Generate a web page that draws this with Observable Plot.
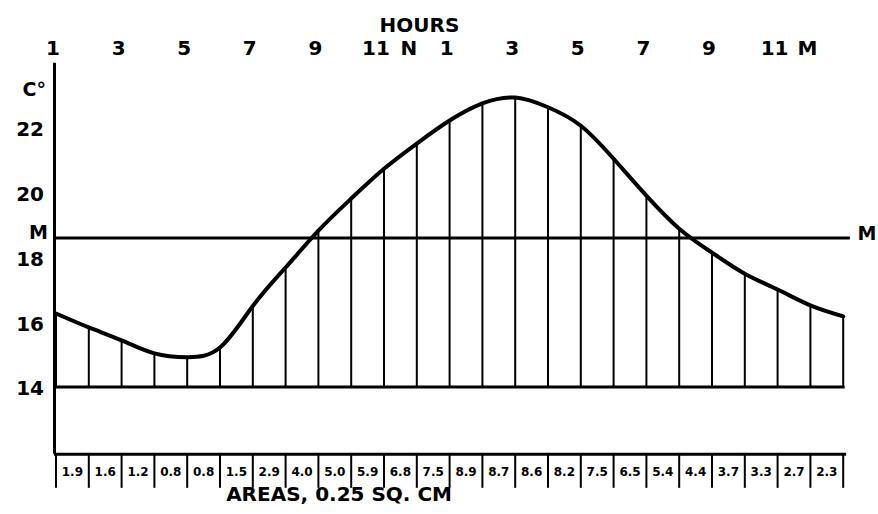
<!DOCTYPE html>
<html><head><meta charset="utf-8">
<script src="https://cdn.jsdelivr.net/npm/d3@7"></script>
<script src="https://cdn.jsdelivr.net/npm/@observablehq/plot@0.6"></script>
<style>body{margin:0;background:#fff}</style>
</head><body><div id="chart"></div>
<script>
// ---- data ----
const slots = d3.range(25); // hourly ordinates, 1 h apart, starting at 1 a.m.
const temperatures = [16.27, 15.84, 15.44, 15.04, 14.92, 15.22, 16.5, 17.69, 18.83, 19.82, 20.74, 21.52, 22.23, 22.76, 22.94, 22.64, 22.07, 21.05, 19.91, 18.89, 18.15, 17.5, 17.01, 16.52, 16.18];
const areas = [1.9, 1.6, 1.2, 0.8, 0.8, 1.5, 2.9, 4.0, 5.0, 5.9, 6.8, 7.5, 8.9, 8.7, 8.6, 8.2, 7.5, 6.5, 5.4, 4.4, 3.7, 3.3, 2.7, 2.3];
const hourLabels = ["1", "3", "5", "7", "9", "11", "N", "1", "3", "5", "7", "9", "11", "M"];
const hourLabelSlots = [0, 2, 4, 6, 8, 10, 11, 12, 14, 16, 18, 20, 22, 23];
const yTicks = [14, 16, 18, 20, 22];
const baseTemp = 14;
const meanTemp = 18.6;

// ---- layout ----
const W = 878, H = 514;
const FONT = "DejaVu Sans";
const boxTop = 11.92, tickBottom = 10.87, areaTextY = 11.36, axisTop = 24.0;

const curveData = slots.map((s, i) => ({s, t: temperatures[i]}));
const areaData = areas.map((a, i) => ({s: i + 0.5, a}));
const hourData = hourLabels.map((l, i) => ({s: hourLabelSlots[i], l}));
const nearNoon = d => d.s === 10 || d.s === 11;

const hourStyle = {x: "s", frameAnchor: "top", dy: 40, text: "l", fontFamily: FONT, fontWeight: "bold", fontSize: 20, fill: "#000"};

const chart = Plot.plot({
  width: W, height: H,
  marginTop: 0, marginRight: 0, marginBottom: 0, marginLeft: 0,
  x: {domain: [0, 24], range: [55.5, 842.7], axis: null},
  y: {domain: [14, 22], range: [386.5, 127.5], axis: null},
  style: {background: "#fff", color: "#000"},
  marks: [
    // vertical ordinates
    Plot.ruleX(curveData, {x: "s", y1: baseTemp, y2: "t", stroke: "#000", strokeWidth: 2}),
    // base line (14 °C)
    Plot.ruleY([baseTemp], {x1: 0, x2: 24.06, stroke: "#000", strokeWidth: 3}),
    // mean line
    Plot.ruleY([meanTemp], {x1: 0, x2: 24.22, stroke: "#000", strokeWidth: 3}),
    // left axis
    Plot.ruleX([0], {y1: boxTop, y2: axisTop, dx: -1.5, stroke: "#000", strokeWidth: 3}),
    // curve
    Plot.line(curveData, {x: "s", y: "t", curve: "natural", stroke: "#000", strokeWidth: 4, strokeLinejoin: "round", strokeLinecap: "round"}),
    // bottom area strip
    Plot.ruleY([boxTop], {x1: 0, x2: 24.15, dx: -1.5, stroke: "#000", strokeWidth: 3}),
    Plot.ruleX(slots, {x: d => d, y1: boxTop, y2: tickBottom, stroke: "#000", strokeWidth: 2}),
    Plot.text(areaData, {x: "s", y: areaTextY, text: d => d.a.toFixed(1), fontFamily: FONT, fontWeight: "bold", fontSize: 12, fill: "#000", letterSpacing: -0.3}),
    // y labels
    Plot.text(yTicks, {x: 0, y: d => d, text: d => String(d), textAnchor: "end", dx: -12, dy: 2, fontFamily: FONT, fontWeight: "bold", fontSize: 20, fill: "#000", letterSpacing: 1}),
    Plot.text(["M"], {x: 0, y: meanTemp, text: d => d, textAnchor: "end", dx: -8, dy: -5, fontFamily: FONT, fontWeight: "bold", fontSize: 19, fill: "#000"}),
    Plot.text(["M"], {x: 24.22, y: meanTemp, text: d => d, textAnchor: "start", dx: 7, dy: -4, fontFamily: FONT, fontWeight: "bold", fontSize: 19, fill: "#000"}),
    Plot.text(["C°"], {x: 0, y: 23.18, text: d => d, textAnchor: "end", dx: -10, fontFamily: FONT, fontWeight: "bold", fontSize: 19, fill: "#000"}),
    // hour labels
    Plot.text(hourData.filter(d => !nearNoon(d)), {...hourStyle, dx: -3}),
    Plot.text(hourData.filter(nearNoon), {...hourStyle, dx: -8}),
    Plot.text(["HOURS"], {x: 11.08, frameAnchor: "top", dy: 17, text: d => d, fontFamily: FONT, fontWeight: "bold", fontSize: 20, fill: "#000"}),
    Plot.text(["AREAS, 0.25 SQ. CM"], {x: 8.63, frameAnchor: "bottom", dy: -14, text: d => d, fontFamily: FONT, fontWeight: "bold", fontSize: 20, fill: "#000", letterSpacing: 0.5})
  ]
});
document.getElementById("chart").appendChild(chart);
</script>
</body></html>
